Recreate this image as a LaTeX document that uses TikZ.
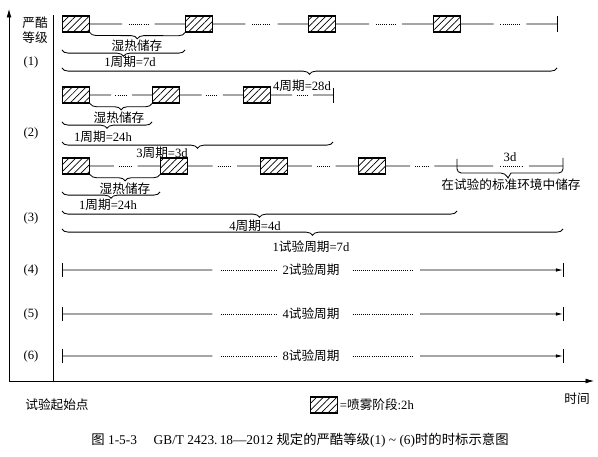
\documentclass[tikz,border=0pt]{standalone}
\usepackage{fontspec}
\setmainfont{Liberation Serif}
\newfontfamily\cjk{Noto Sans CJK SC}
\usepackage{tikz}
\usetikzlibrary{patterns.meta}
\usetikzlibrary{decorations.pathreplacing}
\usetikzlibrary{calc}
\usetikzlibrary{arrows.meta}

\newcommand{\zh}[1]{{\cjk #1}}
\newcommand{\timegap}[2]{%
    \draw (#1) -- ($(#1)!0.34!(#2)$);
    \draw[fine] ($(#1)!0.41!(#2)$) -- ($(#1)!0.61!(#2)$);
    \draw ($(#1)!0.68!(#2)$) -- (#2);}

\begin{document}
\begin{tikzpicture}[x=0.025cm, y=-0.025cm, line width=0.6pt,
        font=\fontsize{9}{10}\selectfont,
        spray/.style={draw, line width=0.8pt, anchor=west, inner sep=0pt,
            minimum width=0.675cm, minimum height=0.4cm,
            pattern={Lines[angle=45, distance=3.4pt, line width=0.5pt]}},
        span/.style={decorate, decoration={brace, mirror, amplitude=4.5pt}},
        fine/.style={densely dotted, line width=0.5pt},
        axis/.style={-{Latex[length=6pt, width=3.5pt]}},
        run/.style={-{Latex[length=5pt, width=2.5pt]}}]
        \useasboundingbox (0, 0) rectangle (598, 457);

        % axes
        \coordinate (o) at (9, 381);
        \coordinate (ytop) at (9, 9);
        \coordinate (xend) at (594, 381);
        \coordinate (split) at (53, 15);
        \draw[axis] (o) -- (ytop);
        \draw[axis] (o) -- (xend);
        \draw (split) -- (split |- o);

        \node[align=center, inner sep=0pt] (grade) at (35, 30)
            {\zh{严酷}\\[1pt]\zh{等级}};
        \node (g1) at (31, 62) {(1)};
        \node (g2) at (31, 133) {(2)};
        \node (g3) at (31, 218) {(3)};
        \node (g4) at (31, 270) {(4)};
        \node (g5) at (31, 314) {(5)};
        \node (g6) at (31, 356) {(6)};

        % grade (1)
        \node[spray] (a1) at (62, 24) {};
        \node[spray] (a2) at (185, 24) {};
        \node[spray] (a3) at (308, 24) {};
        \node[spray] (a4) at (433, 24) {};
        \coordinate (aend) at (557, 24);
        \timegap{a1.east}{a2.west}
        \timegap{a2.east}{a3.west}
        \timegap{a3.east}{a4.west}
        \timegap{a4.east}{aend}
        \draw (557, 16) -- (557, 32);

        \draw[span] (a1.south east) -- (a2.south west);
        \node (a1wet) at (137, 46) {\zh{湿热储存}};
        \draw[span] (62, 50) -- (185, 50);
        \node (a1cyc) at (130, 62) {1\zh{周期}=7d};
        \draw[span] (62, 68) -- (557, 68);
        \node (a4cyc) at (302, 86) {4\zh{周期}=28d};

        % grade (2)
        \node[spray] (b1) at (62, 95) {};
        \node[spray] (b2) at (152, 95) {};
        \node[spray] (b3) at (243, 95) {};
        \coordinate (bend) at (333, 95);
        \timegap{b1.east}{b2.west}
        \timegap{b2.east}{b3.west}
        \timegap{b3.east}{bend}
        \draw (333, 88) -- (333, 103);

        \draw[span] (b1.south east) -- (b2.south west);
        \node (b1wet) at (119, 118) {\zh{湿热储存}};
        \draw[span] (62, 122) -- (152, 122);
        \node (b1cyc) at (103, 137) {1\zh{周期}=24h};
        \draw[span] (62, 142) -- (333, 142);
        \node (b3cyc) at (162, 153) {3\zh{周期}=3d};

        % grade (3)
        \node[spray] (c1) at (62, 166) {};
        \node[spray] (c2) at (160, 166) {};
        \node[spray] (c3) at (260, 166) {};
        \node[spray] (c4) at (358, 166) {};
        \coordinate (c5) at (457, 166);
        \coordinate (cend) at (563, 166);
        \timegap{c1.east}{c2.west}
        \timegap{c2.east}{c3.west}
        \timegap{c3.east}{c4.west}
        \timegap{c4.east}{c5}
        \timegap{c5}{cend}

        \draw[rounded corners=3pt] (457, 159) -- (457, 173) -- (505, 173)
            [sharp corners] -- (508, 178) -- (511, 173)
            [rounded corners=3pt] -- (563, 173) -- (563, 158);
        \node (c3d) at (510, 157) {3d};
        \node (cstd) at (511, 185) {\zh{在试验的标准环境中储存}};

        \draw[span] (c1.south east) -- (c2.south west);
        \node (c1wet) at (125, 189) {\zh{湿热储存}};
        \draw[span] (62, 192) -- (160, 192);
        \node (c1cyc) at (108, 205) {1\zh{周期}=24h};
        \draw[span] (62, 211) -- (457, 211);
        \node (c4cyc) at (255, 226) {4\zh{周期}=4d};
        \draw[span] (62, 229) -- (563, 229);
        \node (ctest) at (311, 247) {1\zh{试验周期}=7d};

        % grades (4) to (6)
        \coordinate (d0) at (62, 270);
        \coordinate (d1) at (563, 270);
        \node (dtxt) at (311, 270) {2\zh{试验周期}};
        \draw (62, 263) -- (62, 277);
        \draw (563, 263) -- (563, 277);
        \draw (d0) -- ($(d0)!0.30!(d1)$);
        \draw[fine] ($(d0)!0.317!(d1)$) -- ($(d0)!0.43!(d1)$);
        \draw[fine] ($(d0)!0.58!(d1)$) -- ($(d0)!0.70!(d1)$);
        \draw[run] ($(d0)!0.715!(d1)$) -- (d1);

        \coordinate (e0) at (62, 314);
        \coordinate (e1) at (563, 314);
        \node (etxt) at (311, 314) {4\zh{试验周期}};
        \draw (62, 307) -- (62, 321);
        \draw (563, 307) -- (563, 321);
        \draw (e0) -- ($(e0)!0.30!(e1)$);
        \draw[fine] ($(e0)!0.317!(e1)$) -- ($(e0)!0.43!(e1)$);
        \draw[fine] ($(e0)!0.58!(e1)$) -- ($(e0)!0.70!(e1)$);
        \draw[run] ($(e0)!0.715!(e1)$) -- (e1);

        \coordinate (f0) at (62, 356);
        \coordinate (f1) at (563, 356);
        \node (ftxt) at (311, 356) {8\zh{试验周期}};
        \draw (62, 349) -- (62, 363);
        \draw (563, 349) -- (563, 363);
        \draw (f0) -- ($(f0)!0.30!(f1)$);
        \draw[fine] ($(f0)!0.317!(f1)$) -- ($(f0)!0.43!(f1)$);
        \draw[fine] ($(f0)!0.58!(f1)$) -- ($(f0)!0.70!(f1)$);
        \draw[run] ($(f0)!0.715!(f1)$) -- (f1);

        % legend and caption
        \node (start) at (57, 405) {\zh{试验起始点}};
        \node[spray] (leg) at (310, 405) {};
        \node[anchor=west, inner sep=1pt] (legtxt) at (leg.east)
            {=\zh{喷雾阶段}:2h};
        \node (time) at (577, 399) {\zh{时间}};
        \node (cap) at (300, 440) {\fontsize{9.5}{11}\selectfont
            \zh{图} 1-5-3\quad\ GB/T 2423.\,18—2012\ \zh{规定的严酷等级}(1)\ \textasciitilde\ (6)\zh{时的时标示意图}};
\end{tikzpicture}
\end{document}
